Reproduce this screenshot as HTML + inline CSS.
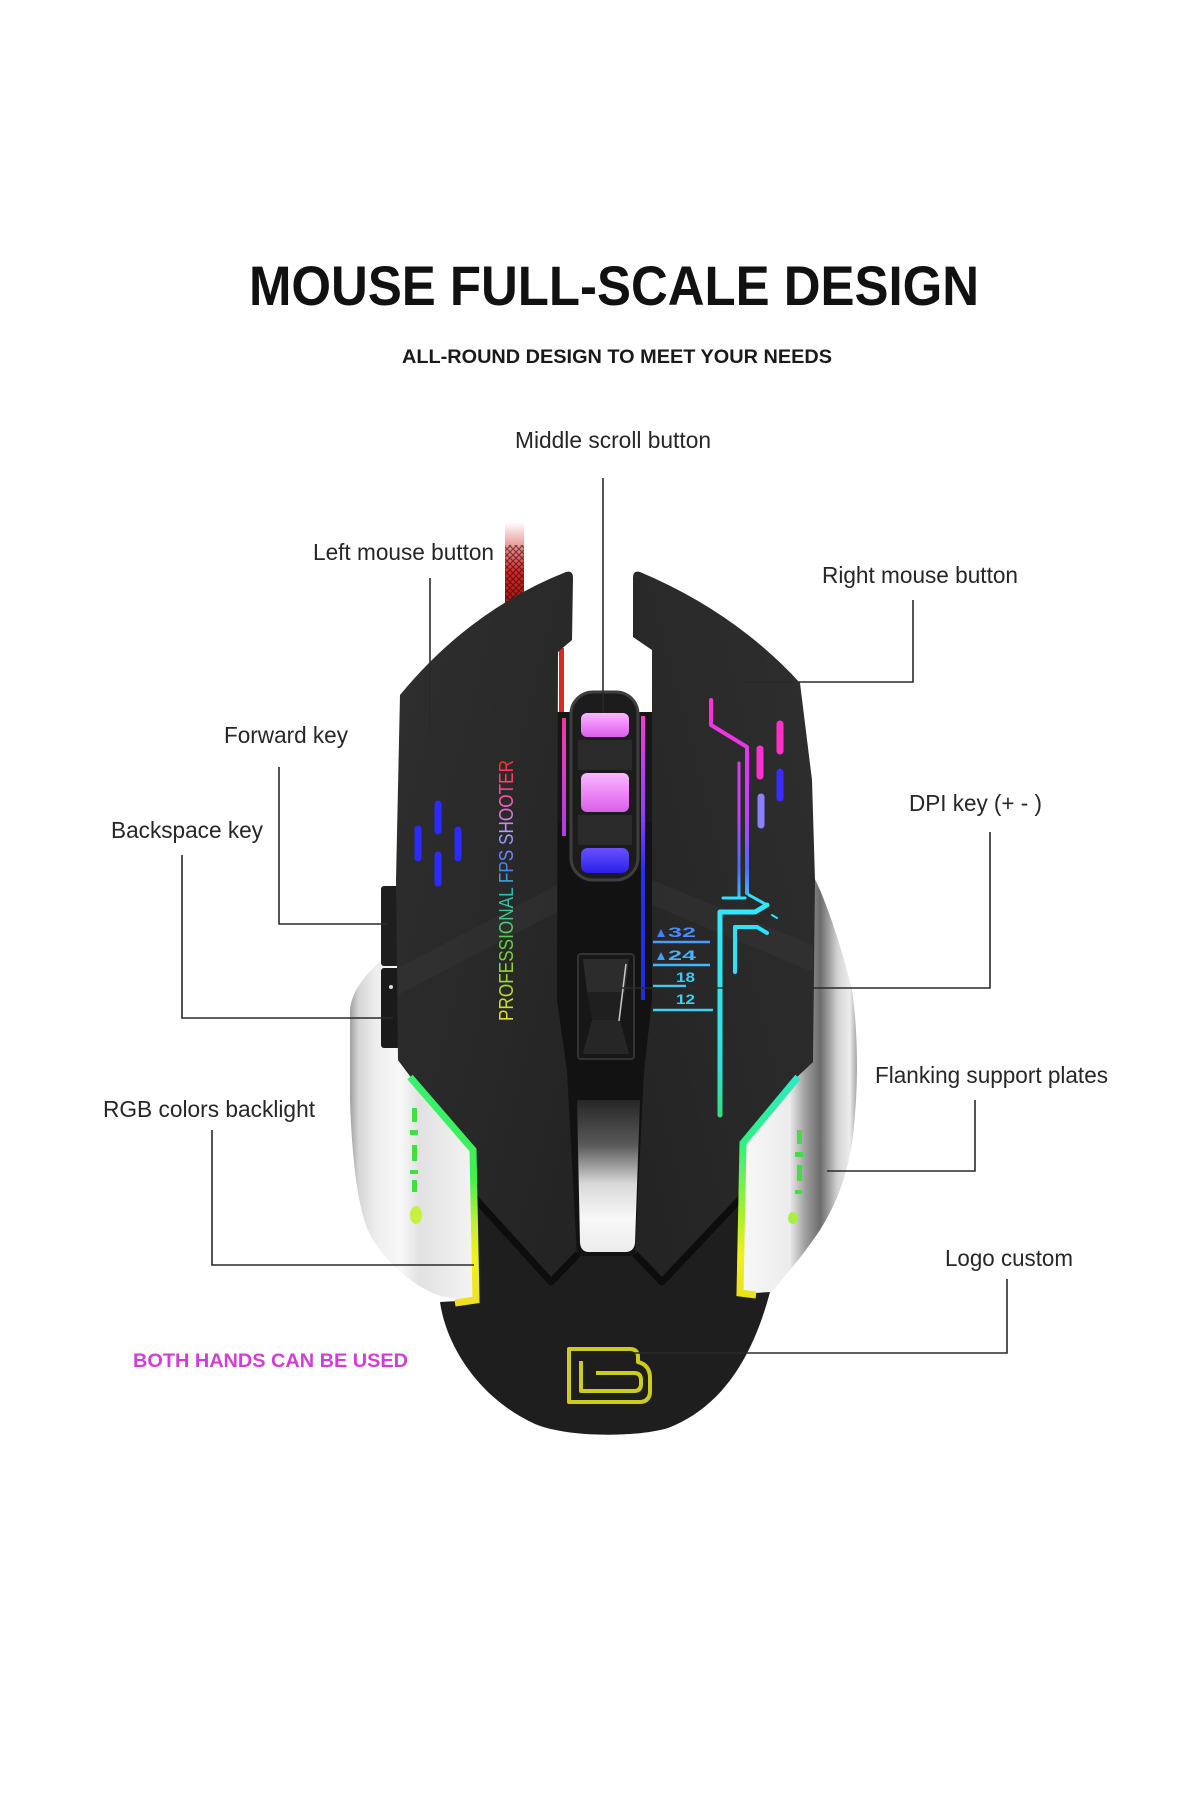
<!DOCTYPE html>
<html><head><meta charset="utf-8">
<style>
html,body{margin:0;padding:0;background:#fff;}
svg{display:block;}
</style></head><body>
<svg width="1200" height="1800" viewBox="0 0 1200 1800" xmlns="http://www.w3.org/2000/svg">
<defs>
  <linearGradient id="cab" x1="0" y1="0" x2="0" y2="1">
    <stop offset="0" stop-color="#ffffff"/>
    <stop offset="0.25" stop-color="#eaa0a0"/>
    <stop offset="0.55" stop-color="#d42a2a"/>
    <stop offset="1" stop-color="#9a1010"/>
  </linearGradient>
  <pattern id="braid" width="6" height="6" patternUnits="userSpaceOnUse">
    <path d="M0,0 L6,6 M6,0 L0,6" stroke="#3a0505" stroke-width="1.2" opacity="0.6"/>
  </pattern>
  <linearGradient id="lflank" gradientUnits="userSpaceOnUse" x1="350" y1="0" x2="476" y2="0">
    <stop offset="0" stop-color="#a0a0a0"/>
    <stop offset="0.07" stop-color="#d6d6d6"/>
    <stop offset="0.2" stop-color="#ededed"/>
    <stop offset="0.4" stop-color="#f8f8f8"/>
    <stop offset="0.55" stop-color="#e2e2e2"/>
    <stop offset="1" stop-color="#f4f4f4"/>
  </linearGradient>
  <linearGradient id="rflank" gradientUnits="userSpaceOnUse" x1="740" y1="0" x2="858" y2="0">
    <stop offset="0" stop-color="#f8f8f8"/>
    <stop offset="0.42" stop-color="#ececec"/>
    <stop offset="0.55" stop-color="#a0a0a0"/>
    <stop offset="0.68" stop-color="#6c6c6c"/>
    <stop offset="0.83" stop-color="#d4d4d4"/>
    <stop offset="0.93" stop-color="#ededed"/>
    <stop offset="1" stop-color="#9a9a9a"/>
  </linearGradient>
  <linearGradient id="lstrip" gradientUnits="userSpaceOnUse" x1="0" y1="1075" x2="0" y2="1305">
    <stop offset="0" stop-color="#38f070"/>
    <stop offset="0.45" stop-color="#40f050"/>
    <stop offset="0.65" stop-color="#c8f030"/>
    <stop offset="0.8" stop-color="#f0f020"/>
    <stop offset="1" stop-color="#f0e020"/>
  </linearGradient>
  <linearGradient id="rstrip" gradientUnits="userSpaceOnUse" x1="0" y1="1075" x2="0" y2="1300">
    <stop offset="0" stop-color="#30e8c8"/>
    <stop offset="0.3" stop-color="#30f080"/>
    <stop offset="0.6" stop-color="#a0f030"/>
    <stop offset="0.8" stop-color="#f0f020"/>
    <stop offset="1" stop-color="#e8e020"/>
  </linearGradient>
  <linearGradient id="silv" gradientUnits="userSpaceOnUse" x1="0" y1="1100" x2="0" y2="1252">
    <stop offset="0" stop-color="#262626"/>
    <stop offset="0.3" stop-color="#5a5a5a"/>
    <stop offset="0.55" stop-color="#d8d8d8"/>
    <stop offset="0.78" stop-color="#f8f8f8"/>
    <stop offset="1" stop-color="#ececec"/>
  </linearGradient>
  <linearGradient id="btnL" x1="0" y1="0" x2="1" y2="1">
    <stop offset="0" stop-color="#2f2f2f"/>
    <stop offset="1" stop-color="#232323"/>
  </linearGradient>
  <linearGradient id="btnR" x1="1" y1="0" x2="0" y2="1">
    <stop offset="0" stop-color="#2f2f2f"/>
    <stop offset="1" stop-color="#232323"/>
  </linearGradient>
  <linearGradient id="vt" gradientUnits="userSpaceOnUse" x1="0" y1="0" x2="261" y2="0">
    <stop offset="0" stop-color="#e8e020"/>
    <stop offset="0.3" stop-color="#60d040"/>
    <stop offset="0.48" stop-color="#30c0b0"/>
    <stop offset="0.6" stop-color="#4a7cff"/>
    <stop offset="0.72" stop-color="#b0a0ff"/>
    <stop offset="0.86" stop-color="#ff50a8"/>
    <stop offset="1" stop-color="#ff2a2a"/>
  </linearGradient>
  <linearGradient id="mag" gradientUnits="userSpaceOnUse" x1="0" y1="700" x2="0" y2="910">
    <stop offset="0" stop-color="#ff30d8"/>
    <stop offset="0.55" stop-color="#c040ff"/>
    <stop offset="0.8" stop-color="#4a6cff"/>
    <stop offset="1" stop-color="#30e0ff"/>
  </linearGradient>
  <linearGradient id="cyan" gradientUnits="userSpaceOnUse" x1="0" y1="900" x2="0" y2="1135">
    <stop offset="0" stop-color="#30e8ff"/>
    <stop offset="0.7" stop-color="#30e0d8"/>
    <stop offset="1" stop-color="#30e060"/>
  </linearGradient>
  <linearGradient id="pink" x1="0" y1="0" x2="0" y2="1">
    <stop offset="0" stop-color="#f8b8ff"/>
    <stop offset="0.5" stop-color="#ee88f8"/>
    <stop offset="1" stop-color="#d860e8"/>
  </linearGradient>
  <linearGradient id="blu" x1="0" y1="0" x2="0" y2="1">
    <stop offset="0" stop-color="#6a50ff"/>
    <stop offset="1" stop-color="#2a20e8"/>
  </linearGradient>
  <linearGradient id="lglow" gradientUnits="userSpaceOnUse" x1="0" y1="645" x2="0" y2="840">
    <stop offset="0" stop-color="#ff2a3a"/>
    <stop offset="0.5" stop-color="#ff40c8"/>
    <stop offset="1" stop-color="#c040ff"/>
  </linearGradient>
  <linearGradient id="rglow" gradientUnits="userSpaceOnUse" x1="0" y1="712" x2="0" y2="1000">
    <stop offset="0" stop-color="#ff40e0"/>
    <stop offset="0.35" stop-color="#a040ff"/>
    <stop offset="0.55" stop-color="#2a30ff"/>
    <stop offset="1" stop-color="#2030e0"/>
  </linearGradient>
</defs>

<rect width="1200" height="1800" fill="#ffffff"/>

<!-- Title -->
<text x="249" y="305" font-family="'Liberation Sans', Arial, sans-serif" font-weight="bold" font-size="56" textLength="730" lengthAdjust="spacingAndGlyphs" fill="#111">MOUSE FULL-SCALE DESIGN</text>
<text x="402" y="363" font-family="'Liberation Sans', Arial, sans-serif" font-weight="bold" font-size="19" textLength="430" lengthAdjust="spacingAndGlyphs" fill="#1a1a1a">ALL-ROUND DESIGN TO MEET YOUR NEEDS</text>

<!-- Cable -->
<rect x="505" y="522" width="19" height="90" fill="url(#cab)"/>
<rect x="505" y="545" width="19" height="67" fill="url(#braid)"/>

<!-- Left flank -->
<path d="M398,950 L384,958 C365,975 352,990 350,1010 L350,1100 C352,1160 358,1215 372,1238 C385,1260 410,1285 440,1296 L476,1302 L476,1150 L410,1076 L398,1060 Z" fill="url(#lflank)"/>
<!-- Right flank -->
<path d="M811,872 C822,890 840,940 852,990 C858,1030 858,1080 855,1114 C852,1160 842,1195 820,1230 C800,1260 785,1275 772,1292 L740,1295 L743,1143 L797,1077 L813,1062 Z" fill="url(#rflank)"/>

<!-- flank glyphs -->
<g fill="#40e040">
  <rect x="412" y="1108" width="5" height="14"/>
  <rect x="410" y="1130" width="8" height="5"/>
  <rect x="412" y="1145" width="5" height="16"/>
  <rect x="410" y="1170" width="8" height="4"/>
  <rect x="412" y="1180" width="5" height="12"/>
  <ellipse cx="416" cy="1215" rx="6" ry="9" fill="#c8f040"/>
  <rect x="797" y="1130" width="5" height="14"/>
  <rect x="795" y="1152" width="8" height="5"/>
  <rect x="797" y="1165" width="5" height="16"/>
  <rect x="795" y="1190" width="7" height="4"/>
  <ellipse cx="793" cy="1218" rx="5" ry="6" fill="#a8f040"/>
</g>

<!-- Lower shell -->
<path d="M398,990 L398,1060 L410,1076 L473,1150 L476,1300 L440,1302 C446,1345 478,1398 535,1424 C565,1437 635,1438 668,1428 C720,1408 752,1360 770,1292 L740,1294 L743,1143 L797,1077 L813,1062 L813,990 Z" fill="#1e1e1e"/>

<!-- Side buttons -->
<rect x="381" y="886" width="18" height="80" rx="3" fill="#1e1e1e"/>
<rect x="381" y="968" width="19" height="80" rx="3" fill="#1a1a1a"/>
<circle cx="391" cy="987" r="2" fill="#dddddd"/>

<!-- red cable glimpse in gap -->
<rect x="559" y="648" width="5" height="70" fill="#d42a2a"/>

<!-- Central channel -->
<path d="M556,712 L654,712 L654,1000 L645,1071 L637,1256 L576,1256 L566,1071 L556,1000 Z" fill="#121212"/>
<rect x="558" y="712" width="14" height="110" fill="#161616"/>
<rect x="637" y="712" width="15" height="110" fill="#161616"/>

<!-- Left button -->
<path d="M566,572 Q573,570 573,578 L572,640 L558,652 L557,1000 L567,1071 L577,1256 L551,1282 L473,1196 L473,1150 L410,1076 L398,1060 L396,880 L400,695 Q470,610 566,572 Z" fill="url(#btnL)"/>
<!-- Right button -->
<path d="M640,572 Q633,570 633,578 L633,637 L652,650 L652,1000 L644,1071 L635,1256 L662,1282 L743,1196 L743,1143 L797,1077 L813,1062 L815,880 L812,780 L800,683 Q735,612 640,572 Z" fill="url(#btnR)"/>

<!-- subtle shading bands -->
<polygon points="398,968 557,885 557,912 398,995" fill="#3a3a3a" opacity="0.35"/>
<polygon points="652,880 813,945 813,972 652,905" fill="#3a3a3a" opacity="0.35"/>

<!-- V ridges -->
<polyline points="473,1196 551,1282 578,1254" fill="none" stroke="#0d0d0d" stroke-width="7" stroke-linejoin="round"/>
<polyline points="743,1196 662,1282 635,1254" fill="none" stroke="#0d0d0d" stroke-width="7" stroke-linejoin="round"/>

<!-- Silver V region -->
<path d="M577,1100 L640,1100 L635,1243 Q634,1252 625,1252 L589,1252 Q581,1252 580,1243 Z" fill="url(#silv)"/>

<!-- glow beside wheel -->
<rect x="562" y="718" width="4" height="118" fill="url(#lglow)" opacity="0.9"/>
<rect x="641" y="716" width="4" height="284" fill="url(#rglow)" opacity="0.95"/>

<!-- Scroll wheel -->
<rect x="571" y="692" width="67" height="188" rx="22" fill="#1c1c1c" stroke="#3e3e3e" stroke-width="3"/>
<rect x="578" y="740" width="54" height="30" fill="#2a2a2a"/>
<rect x="578" y="815" width="54" height="30" fill="#2a2a2a"/>
<rect x="581" y="713" width="48" height="24" rx="6" fill="url(#pink)"/>
<rect x="581" y="773" width="48" height="39" rx="6" fill="url(#pink)"/>
<rect x="581" y="848" width="48" height="25" rx="7" fill="url(#blu)"/>

<!-- DPI button -->
<rect x="578" y="954" width="56" height="105" rx="3" fill="#171717" stroke="#333" stroke-width="2"/>
<polygon points="583,959 629,959 625,992 587,992" fill="#2c2c2c"/>
<polygon points="587,992 625,992 620,1020 592,1020" fill="#1f1f1f"/>
<polygon points="592,1020 620,1020 629,1054 583,1054" fill="#262626"/>
<line x1="626" y1="964" x2="619" y2="1021" stroke="#c8c8c8" stroke-width="1.5"/>

<!-- Left button blue cross -->
<g stroke="#2b2bff" stroke-width="7" stroke-linecap="round">
  <line x1="438" y1="804" x2="438" y2="831"/>
  <line x1="418" y1="829" x2="418" y2="858"/>
  <line x1="458" y1="830" x2="458" y2="858"/>
  <line x1="438" y1="855" x2="438" y2="883"/>
</g>

<!-- Vertical text -->
<text transform="translate(513,1021) rotate(-90)" font-family="'Liberation Sans', Arial, sans-serif" font-size="20" textLength="261" lengthAdjust="spacingAndGlyphs" fill="url(#vt)">PROFESSIONAL FPS SHOOTER</text>

<!-- Right button lights -->
<g fill="none" stroke-linecap="round" stroke-linejoin="round">
  <polyline points="711,700 711,725 747,747 747,893" stroke="url(#mag)" stroke-width="4"/>
  <line x1="739" y1="763" x2="739" y2="897" stroke="url(#mag)" stroke-width="3"/>
  <line x1="723" y1="898" x2="745" y2="898" stroke="#30e0ff" stroke-width="3"/>
  <line x1="749" y1="895" x2="767" y2="905" stroke="#30e0ff" stroke-width="3"/>
  <line x1="772" y1="915" x2="777" y2="918" stroke="#30e0ff" stroke-width="2"/>
  <polyline points="720,1115 720,912 755,912 767,905" stroke="url(#cyan)" stroke-width="5"/>
  <polyline points="735,972 735,927 757,927 767,933" stroke="#30e0ff" stroke-width="4"/>
  <line x1="760" y1="749" x2="760" y2="776" stroke="#ff30d0" stroke-width="7"/>
  <line x1="780" y1="724" x2="780" y2="751" stroke="#ff30c8" stroke-width="7"/>
  <line x1="780" y1="772" x2="780" y2="798" stroke="#3a2cff" stroke-width="7"/>
  <line x1="761" y1="797" x2="761" y2="825" stroke="#8a80ff" stroke-width="7"/>
</g>

<!-- DPI numbers -->
<g font-family="'Liberation Sans', Arial, sans-serif" font-weight="bold" font-size="14">
  <polygon points="657,937 661,929 665,937" fill="#3a80ff"/>
  <text x="668" y="937" fill="#4a8cff" textLength="28" lengthAdjust="spacingAndGlyphs">32</text>
  <polygon points="657,960 661,952 665,960" fill="#3aa0ff"/>
  <text x="668" y="960" fill="#4ab0ff" textLength="28" lengthAdjust="spacingAndGlyphs">24</text>
  <text x="676" y="982" fill="#40c8f0" textLength="19" lengthAdjust="spacingAndGlyphs">18</text>
  <text x="676" y="1004" fill="#40d0f0" textLength="19" lengthAdjust="spacingAndGlyphs">12</text>
</g>
<g stroke-width="2.5">
  <line x1="653" y1="942" x2="710" y2="942" stroke="#4a9cff"/>
  <line x1="653" y1="965" x2="710" y2="965" stroke="#40b8ff"/>
  <line x1="653" y1="986" x2="686" y2="986" stroke="#40c8f0"/>
  <line x1="653" y1="1010" x2="713" y2="1010" stroke="#40d0f0"/>
</g>

<!-- RGB strips -->
<polyline points="410,1077 473,1150 476,1300 455,1303" fill="none" stroke="url(#lstrip)" stroke-width="7" stroke-linejoin="miter"/>
<polyline points="798,1077 743,1143 740,1293 756,1295" fill="none" stroke="url(#rstrip)" stroke-width="7" stroke-linejoin="miter"/>

<!-- Logo -->
<g fill="none" stroke="#cccc1e" stroke-width="4" stroke-linejoin="round">
  <path d="M569,1349 L630,1349 Q638,1349 638,1357 L638,1362 Q650,1365 650,1378 L650,1391 Q650,1402 639,1402 L569,1402 Z"/>
  <path d="M581,1361 L581,1391 L634,1391 Q641,1391 641,1384 L641,1380 Q641,1373 634,1373 L596,1373"/>
</g>

<!-- Connector lines -->
<g stroke="#2a2a2a" stroke-width="1.6" fill="none">
  <line x1="603" y1="478" x2="603" y2="713"/>
  <line x1="430" y1="578" x2="430" y2="733"/>
  <polyline points="913,600 913,682 743,682"/>
  <polyline points="279,767 279,924 388,924"/>
  <polyline points="182,855 182,1018 393,1018"/>
  <polyline points="990,832 990,988 616,988"/>
  <polyline points="975,1100 975,1171 827,1171"/>
  <polyline points="212,1130 212,1265 474,1265"/>
  <polyline points="1007,1279 1007,1353 634,1353"/>
</g>

<!-- Labels -->
<g font-family="'Liberation Sans', Arial, sans-serif" font-size="23" fill="#262626">
  <text x="515" y="448" textLength="196" lengthAdjust="spacingAndGlyphs">Middle scroll button</text>
  <text x="313" y="560" textLength="181" lengthAdjust="spacingAndGlyphs">Left mouse button</text>
  <text x="822" y="583" textLength="196" lengthAdjust="spacingAndGlyphs">Right mouse button</text>
  <text x="224" y="743" textLength="124" lengthAdjust="spacingAndGlyphs">Forward key</text>
  <text x="111" y="838" textLength="152" lengthAdjust="spacingAndGlyphs">Backspace key</text>
  <text x="909" y="811" textLength="133" lengthAdjust="spacingAndGlyphs">DPI key (+ - )</text>
  <text x="875" y="1083" textLength="233" lengthAdjust="spacingAndGlyphs">Flanking support plates</text>
  <text x="103" y="1117" textLength="212" lengthAdjust="spacingAndGlyphs">RGB colors backlight</text>
  <text x="945" y="1266" textLength="128" lengthAdjust="spacingAndGlyphs">Logo custom</text>
</g>
<text x="133" y="1367" font-family="'Liberation Sans', Arial, sans-serif" font-weight="bold" font-size="19.5" textLength="275" lengthAdjust="spacingAndGlyphs" fill="#d43cd6">BOTH HANDS CAN BE USED</text>
</svg>
</body></html>
